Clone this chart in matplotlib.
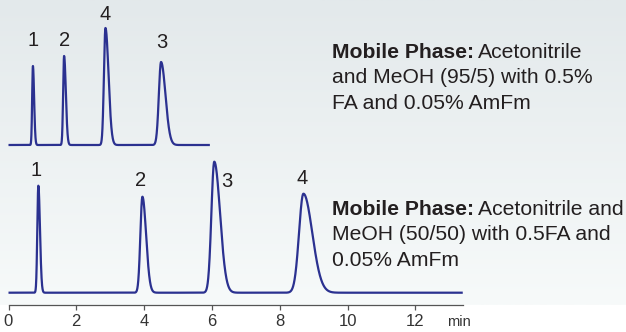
import numpy as np
import matplotlib.pyplot as plt
import matplotlib.transforms as mtransforms

plt.rcParams['font.family'] = ['Liberation Sans', 'DejaVu Sans']

# top run: ACN/MeOH 95/5
top_rt = [0.72, 1.64, 2.86, 4.50]
top_height = [79, 89, 117, 83]
top_sigma = [0.022, 0.028, 0.045, 0.065]
top_tail = [1.6, 1.8, 2.0, 2.0]
top_labels = ['1', '2', '4', '3']
top_end = 5.94

# bottom run: ACN/MeOH 50/50
bot_rt = [0.88, 3.95, 6.07, 8.70]
bot_height = [107, 96, 131, 99]
bot_sigma = [0.030, 0.060, 0.085, 0.13]
bot_tail = [1.6, 1.8, 2.0, 2.0]
bot_labels = ['1', '2', '3', '4']
bot_end = 13.4

xticks = [0, 2, 4, 6, 8, 10, 12]

top_text = ['and MeOH (95/5) with 0.5%', 'FA and 0.05% AmFm']
top_first = 'Acetonitrile'
bot_text = ['MeOH (50/50) with 0.5FA and', '0.05% AmFm']
bot_first = 'Acetonitrile and'

blue = '#2b3190'
txt = '#231f20'


def trace(t, rts, hs, sig, tail):
    y = np.zeros_like(t)
    for r, h, s, k in zip(rts, hs, sig, tail):
        s_arr = np.where(t < r, s, s * k)
        y += h * np.exp(-0.5 * ((t - r) / s_arr) ** 2)
    return y


W, H = 626, 332
fig = plt.figure(figsize=(W / 100, H / 100), dpi=100)
fig.patch.set_facecolor('white')

# background gradient
bg = fig.add_axes([0, 27 / H, 1, 1 - 27 / H], zorder=0)
grad = np.linspace(0, 1, 256)[:, None]
c_top = np.array([227, 233, 235]) / 255
c_bot = np.array([247, 250, 250]) / 255
img = c_top[None, None, :] * (1 - grad[:, :, None]) + c_bot[None, None, :] * grad[:, :, None]
bg.imshow(img, aspect='auto', extent=[0, 1, 0, 1])
bg.axis('off')

ax = fig.add_axes([0, 27 / H, 1, 1 - 27 / H], zorder=1)
ax.patch.set_alpha(0)
x0 = -8.5 / 33.9
ax.set_xlim(x0, x0 + W / 33.9)
ax.set_ylim(0, 305)

top_off = 160
bot_off = 12.3

t1 = np.linspace(0, top_end, 3000)
ax.plot(t1, top_off + trace(t1, top_rt, top_height, top_sigma, top_tail),
        color=blue, lw=1.6, solid_capstyle='butt')
t2 = np.linspace(0, bot_end, 5000)
ax.plot(t2, bot_off + trace(t2, bot_rt, bot_height, bot_sigma, bot_tail),
        color=blue, lw=1.6, solid_capstyle='butt')

# peak labels
top_dy = [26, 16, 13, 20]
top_dx = [0, 0, 0, 0.03]
for r, h, lab, dx, dy in zip(top_rt, top_height, top_labels, top_dx, top_dy):
    ax.text(r + dx, top_off + h + dy, lab, ha='center', va='center',
            fontsize=14.5, color=txt)
bot_pos = [(-0.07, 15), (-0.04, 16), (0.38, -20), (-0.04, 15)]
for r, h, lab, (dx, dy) in zip(bot_rt, bot_height, bot_labels, bot_pos):
    ax.text(r + dx, bot_off + h + dy, lab, ha='center', va='center',
            fontsize=14.5, color=txt)

# axis
for s in ['top', 'right', 'left']:
    ax.spines[s].set_visible(False)
ax.spines['bottom'].set_bounds(0, 13.4)
ax.spines['bottom'].set_color('#555555')
ax.spines['bottom'].set_linewidth(0.9)
ax.set_yticks([])
ax.set_xticks(xticks)
ax.tick_params(axis='x', direction='out', length=3.5, width=0.9,
               color='#555555', labelsize=12, labelcolor='#333333', pad=3)
trans = mtransforms.blended_transform_factory(ax.transData, ax.transAxes)
trans = trans + mtransforms.ScaledTranslation(0, -17 / 100, fig.dpi_scale_trans)
ax.text(12.93, 0, 'min', transform=trans, ha='left', va='center',
        fontsize=10.5, color='#333333')

fig.canvas.draw()
r = fig.canvas.get_renderer()


def block(x_px, base_px, first, rest, size=15.2, gap=25.5):
    y = 1 - base_px / H
    b = fig.text(x_px / W, y, 'Mobile Phase:', fontsize=size,
                 fontweight='bold', color=txt, va='baseline')
    bb = b.get_window_extent(r)
    fig.text(bb.x1 / W + 4 / W, y, first, fontsize=size, color=txt,
             va='baseline')
    for i, line in enumerate(rest):
        fig.text(x_px / W, 1 - (base_px + gap * (i + 1)) / H, line,
                 fontsize=size, color=txt, va='baseline')


block(332, 57.5, top_first, top_text)
block(332, 215, bot_first, bot_text)

fig.savefig('out.png', dpi=100)
